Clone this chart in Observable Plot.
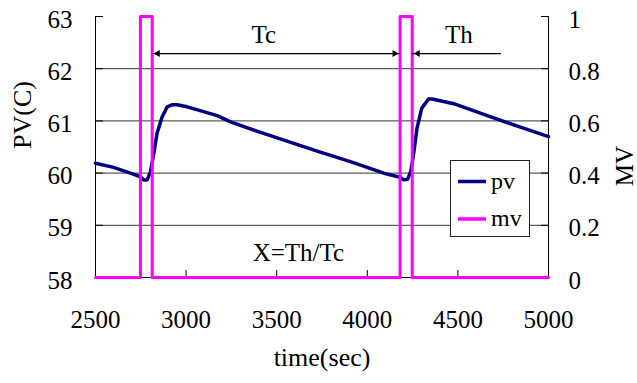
<!DOCTYPE html>
<html><head><meta charset="utf-8">
<script src="https://cdn.jsdelivr.net/npm/d3@7"></script>
<script src="https://cdn.jsdelivr.net/npm/@observablehq/plot@0.6"></script>
<style>body{margin:0;background:#fff}</style>
</head><body><div id="chart"></div>
<script>
// ---- data ----
const timeTicks = [2500, 3000, 3500, 4000, 4500, 5000];
const pvTicks = [58, 59, 60, 61, 62, 63];
const mvTicks = [0, 0.2, 0.4, 0.6, 0.8, 1];

const pvTime = [2500, 2600, 2700, 2748, 2766, 2785, 2803, 2822, 2840, 2868, 2896, 2925, 2950, 3006, 3172, 3245, 3411, 3594, 3732, 3915, 4099, 4181, 4201, 4222, 4240, 4256, 4274, 4300, 4338, 4358, 4477, 4662, 4845, 5000];
const pvValues = [60.19, 60.11, 59.99, 59.93, 59.87, 59.87, 60.02, 60.38, 60.77, 61.08, 61.27, 61.31, 61.31, 61.27, 61.10, 60.98, 60.78, 60.57, 60.41, 60.21, 59.99, 59.92, 59.87, 59.88, 60.03, 60.38, 60.85, 61.24, 61.42, 61.42, 61.33, 61.10, 60.88, 60.70];

const mvTime = [2500, 2748, 2813, 4181, 4248, 5000];
const mvValues = [0, 1, 0, 1, 0, 0];

const labelText = ["Tc", "Th", "X=Th/Tc"];
const labelTime = [3429, 4505, 3620];
const labelPV = [62.64, 62.64, 58.46];

const arrowStart = [2813, 4248];
const arrowEnd = [4181, 4741];
const arrowPV = [62.29, 62.29];
const headLeftTime = [2813, 4248];
const headRightTime = [4181];

const seriesNames = ["pv", "mv"];
const seriesColors = ["#000080", "#ff00ff"];

// ---- derived ----
const pvMin = pvTicks[0], pvMax = pvTicks[pvTicks.length - 1];
const mvToPv = v => pvMin + v * (pvMax - pvMin);
const pvData = pvTime.map((t, i) => ({t, v: pvValues[i]}));
const mvData = mvTime.map((t, i) => ({t, v: mvToPv(mvValues[i])}));
const labels = labelText.map((s, i) => ({s, t: labelTime[i], v: labelPV[i]}));
const arrows = arrowStart.map((t, i) => ({t1: t, t2: arrowEnd[i], v: arrowPV[i]}));
const font = "'Liberation Serif', 'Times New Roman', serif";

const plot = Plot.plot({
  width: 637, height: 383,
  marginLeft: 95, marginRight: 89, marginTop: 16, marginBottom: 106,
  style: {fontFamily: font, fontSize: "25px", color: "#000", background: "#fff"},
  x: {domain: [timeTicks[0], timeTicks[timeTicks.length - 1]]},
  y: {domain: [pvMin, pvMax]},
  marks: [
    Plot.ruleY(pvTicks.slice(1, -1), {stroke: "#333", strokeWidth: 1}),
    Plot.ruleX([timeTicks[0], timeTicks[timeTicks.length - 1]], {stroke: "#000"}),
    Plot.ruleY([pvMin], {stroke: "#000"}),
    // x axis ticks (inward) and labels
    Plot.axisX(timeTicks, {tickSize: 7, dy: -7, tickFormat: () => "", label: null, stroke: "#000"}),
    Plot.axisX(timeTicks, {tickSize: 0, tickPadding: 33, label: null, fontSize: 25, fontFamily: font, fontVariant: "normal", tickFormat: d => String(d)}),
    // left axis
    Plot.axisY(pvTicks, {anchor: "left", tickSize: 8, dx: 8, tickFormat: () => "", label: null, stroke: "#000"}),
    Plot.axisY(pvTicks, {anchor: "left", tickSize: 0, tickPadding: 23, dy: 3, label: null, fontSize: 25, fontFamily: font, fontVariant: "normal", tickFormat: d => String(d)}),
    // right axis (mv)
    Plot.axisY(mvTicks.map(mvToPv), {anchor: "right", tickSize: 8, dx: -8, tickFormat: () => "", label: null, stroke: "#000"}),
    Plot.axisY(mvTicks.map(mvToPv), {anchor: "right", tickSize: 0, tickPadding: 20, dy: 3, label: null, fontSize: 25, fontFamily: font, fontVariant: "normal",
      tickFormat: d => String(+((d - pvMin) / (pvMax - pvMin)).toFixed(1))}),
    // axis titles
    Plot.text(["time(sec)"], {frameAnchor: "bottom", dy: 88, fontSize: 26, fontFamily: font, fill: "#000"}),
    Plot.text(["PV(C)"], {frameAnchor: "left", dx: -73, dy: 2, rotate: -90, fontSize: 26, fontFamily: font, fill: "#000"}),
    Plot.text(["MV"], {frameAnchor: "right", dx: 76, dy: -1, rotate: -90, fontSize: 25, fontFamily: font, fill: "#000"}),
    // series
    Plot.line(pvData, {x: "t", y: "v", stroke: seriesColors[0], strokeWidth: 3.5}),
    Plot.line(mvData, {x: "t", y: "v", curve: "step-after", stroke: seriesColors[1], strokeWidth: 3}),
    // annotations
    Plot.ruleY(arrows, {x1: "t1", x2: "t2", y: "v", stroke: "#000", strokeWidth: 1.3}),
    Plot.dot(headLeftTime, {x: d => d, y: arrowPV[0], symbol: "triangle", r: 2.6, fill: "#000", rotate: -90, dx: 5.5}),
    Plot.dot(headRightTime, {x: d => d, y: arrowPV[0], symbol: "triangle", r: 2.6, fill: "#000", rotate: 90, dx: -5.5}),
    Plot.text(labels, {x: "t", y: "v", text: "s", fontSize: 25, fontFamily: font, fill: "#000"})
  ]
});
document.getElementById("chart").appendChild(plot);

// legend box inside the plot area
const svg = d3.select(plot);
const lg = svg.append("g").attr("font-family", font).attr("font-size", 24).attr("text-anchor", "start");
lg.append("rect").attr("x", 450.5).attr("y", 160.5).attr("width", 79).attr("height", 76)
  .attr("fill", "#fff").attr("stroke", "#222").attr("stroke-width", 1);
seriesNames.forEach((name, i) => {
  const y = 181.5 + i * 37.5;
  lg.append("line").attr("x1", 458).attr("x2", 486).attr("y1", y).attr("y2", y)
    .attr("stroke", seriesColors[i]).attr("stroke-width", 3.5);
  lg.append("text").attr("x", 491).attr("y", y).attr("dy", "0.3em").attr("fill", "#000")
    .attr("text-anchor", "start").text(name);
});
</script>
</body></html>
